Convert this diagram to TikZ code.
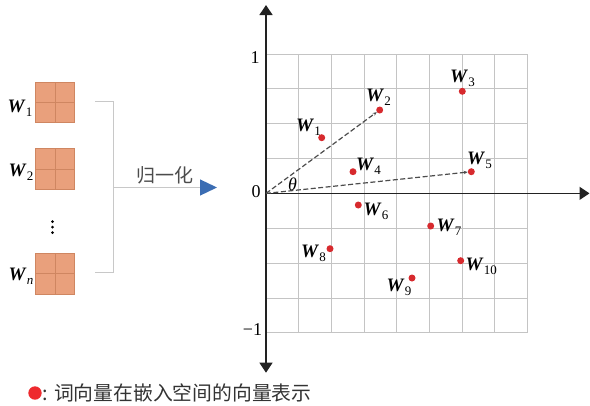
\documentclass[tikz,border=0pt]{standalone}
\usepackage{fontspec}
\setmainfont{Liberation Serif}
\newfontfamily\cjk{Noto Sans CJK SC}
\usetikzlibrary{arrows.meta}
\definecolor{gridc}{HTML}{C4C4C4}
\definecolor{sqfill}{HTML}{E9A07C}
\definecolor{sqline}{HTML}{CF8661}
\definecolor{ptred}{HTML}{D72A2E}
\definecolor{legred}{HTML}{EE2A2E}
\definecolor{arrblue}{HTML}{3B6DB3}
\definecolor{brkc}{HTML}{C8C8C8}
\definecolor{axisc}{HTML}{222222}
\newcommand{\Wsym}[1]{{\fontsize{19}{19}\selectfont\bfseries\itshape W}\kern1.2pt\raisebox{-4pt}{\fontsize{13}{13}\selectfont #1}}
\begin{document}
\begin{tikzpicture}[x=1pt,y=-1pt,
  wlab/.style={anchor=base west, inner sep=0pt, text=black},
  ptdot/.style={circle, fill=ptred, inner sep=0pt, minimum size=7pt},
  sqbox/.style={rectangle, draw=sqline, fill=sqfill, line width=0.6pt, inner sep=0pt,
    minimum width=38.3pt, minimum height=40.5pt,
    path picture={\draw[sqline, line width=0.6pt] (path picture bounding box.north) -- (path picture bounding box.south)
      (path picture bounding box.west) -- (path picture bounding box.east);}},
  brkline/.style={draw=brkc, line width=1.3pt},
  gridline/.style={draw=gridc, line width=0.9pt},
  axisline/.style={draw=axisc, line width=1.4pt},
  vecline/.style={draw=black!70, line width=1.2pt, dash pattern=on 5pt off 2.5pt},
  ticklab/.style={inner sep=0pt, font=\fontsize{18}{18}\selectfont},
  cjklab/.style={inner sep=0pt, font=\cjk\fontsize{19}{19}\selectfont}
]
\useasboundingbox (0,0) rectangle (590,405);

% left squares
\node[sqbox] (s1) at (54.85,102.5) {};
\node[sqbox] (s2) at (54.85,168.8) {};
\node[sqbox] (sn) at (54.85,273.6) {};
\node[wlab] (l1) at (7.5,112.7) {\Wsym{1}};
\node[wlab] (l2) at (8.5,176.7) {\Wsym{2}};
\node[wlab] (ln) at (8.5,280.7) {\Wsym{\itshape n}};
\foreach \yy in {221.5,227,232.5}
  \fill[black] (52.5,\yy) circle (1.5pt);

% bracket and arrow
\coordinate (bt) at (95,101.7);
\coordinate (bb) at (95,272.7);
\coordinate (bm) at (113.3,187.5);
\coordinate (atip) at (217,187.5);
\draw[brkline] (bt) -- (113.3,101.7) -- (113.3,272.7) -- (bb);
\draw[brkline, -{Triangle[length=17pt,width=16pt,color=arrblue]}] (bm) -- (atip);
\node[cjklab, text=black!70] (norm) at (165,175) {归一化};

% grid
\foreach \i in {0,...,8}
  \draw[gridline] ({266+\i*32.7},54) -- ({266+\i*32.7},332.8);
\foreach \j in {0,...,8}
  \draw[gridline] (266,{54+\j*34.85}) -- (527.6,{54+\j*34.85});

% axes
\coordinate (O) at (266,193.4);
\coordinate (ytop) at (266,5);
\coordinate (ybot) at (266,372.7);
\coordinate (xend) at (589.5,193.4);
\draw[axisline, {Triangle[length=10pt,width=13pt]}-{Triangle[length=10pt,width=13pt]}] (ybot) -- (ytop);
\draw[axisline, -{Triangle[length=10pt,width=13pt]}] (O) -- (xend);
\node[ticklab] (t1) at (255,57.5) {1};
\node[ticklab] (t0) at (256,192) {0};
\node[ticklab] (tm1) at (252.5,330) {−1};

% points
\node[ptdot] (p1) at (321.7,137.7) {};
\node[ptdot] (p2) at (379.7,110) {};
\node[ptdot] (p3) at (462.3,91.3) {};
\node[ptdot] (p4) at (353,171.7) {};
\node[ptdot] (p5) at (471.3,171.7) {};
\node[ptdot] (p6) at (358.3,205) {};
\node[ptdot] (p7) at (430.7,226) {};
\node[ptdot] (p8) at (330,248.7) {};
\node[ptdot] (p9) at (412,278) {};
\node[ptdot] (p10) at (460.7,260.7) {};

% vectors
\draw[vecline, -{Stealth[length=4pt,width=3.5pt]}] (O) -- (p2);
\draw[vecline, -{Stealth[length=4pt,width=3.5pt]}] (O) -- (p5);
\node[inner sep=0pt, font=\fontsize{18}{18}\selectfont\itshape] (th) at (292.5,184.5) {θ};

% point labels
\node[wlab] (w1) at (296,131.7) {\Wsym{1}};
\node[wlab] (w2) at (366,101.7) {\Wsym{2}};
\node[wlab] (w3) at (450,82.7) {\Wsym{3}};
\node[wlab] (w4) at (356,170.7) {\Wsym{4}};
\node[wlab] (w5) at (467,164) {\Wsym{5}};
\node[wlab] (w6) at (363.5,215) {\Wsym{6}};
\node[wlab] (w7) at (436.5,231.7) {\Wsym{7}};
\node[wlab] (w8) at (301,257.3) {\Wsym{8}};
\node[wlab] (w9) at (386.5,291) {\Wsym{9}};
\node[wlab] (w10) at (465.5,270.7) {\Wsym{10}};

% legend
\node[circle, fill=legred, inner sep=0pt, minimum size=13.4pt] (leg) at (35,393) {};
\node[inner sep=0pt, anchor=west, text=black!80, font=\cjk\fontsize{19.8}{19.8}\selectfont] (legt) at (42.5,393) {: 词向量在嵌入空间的向量表示};
\end{tikzpicture}
\end{document}
